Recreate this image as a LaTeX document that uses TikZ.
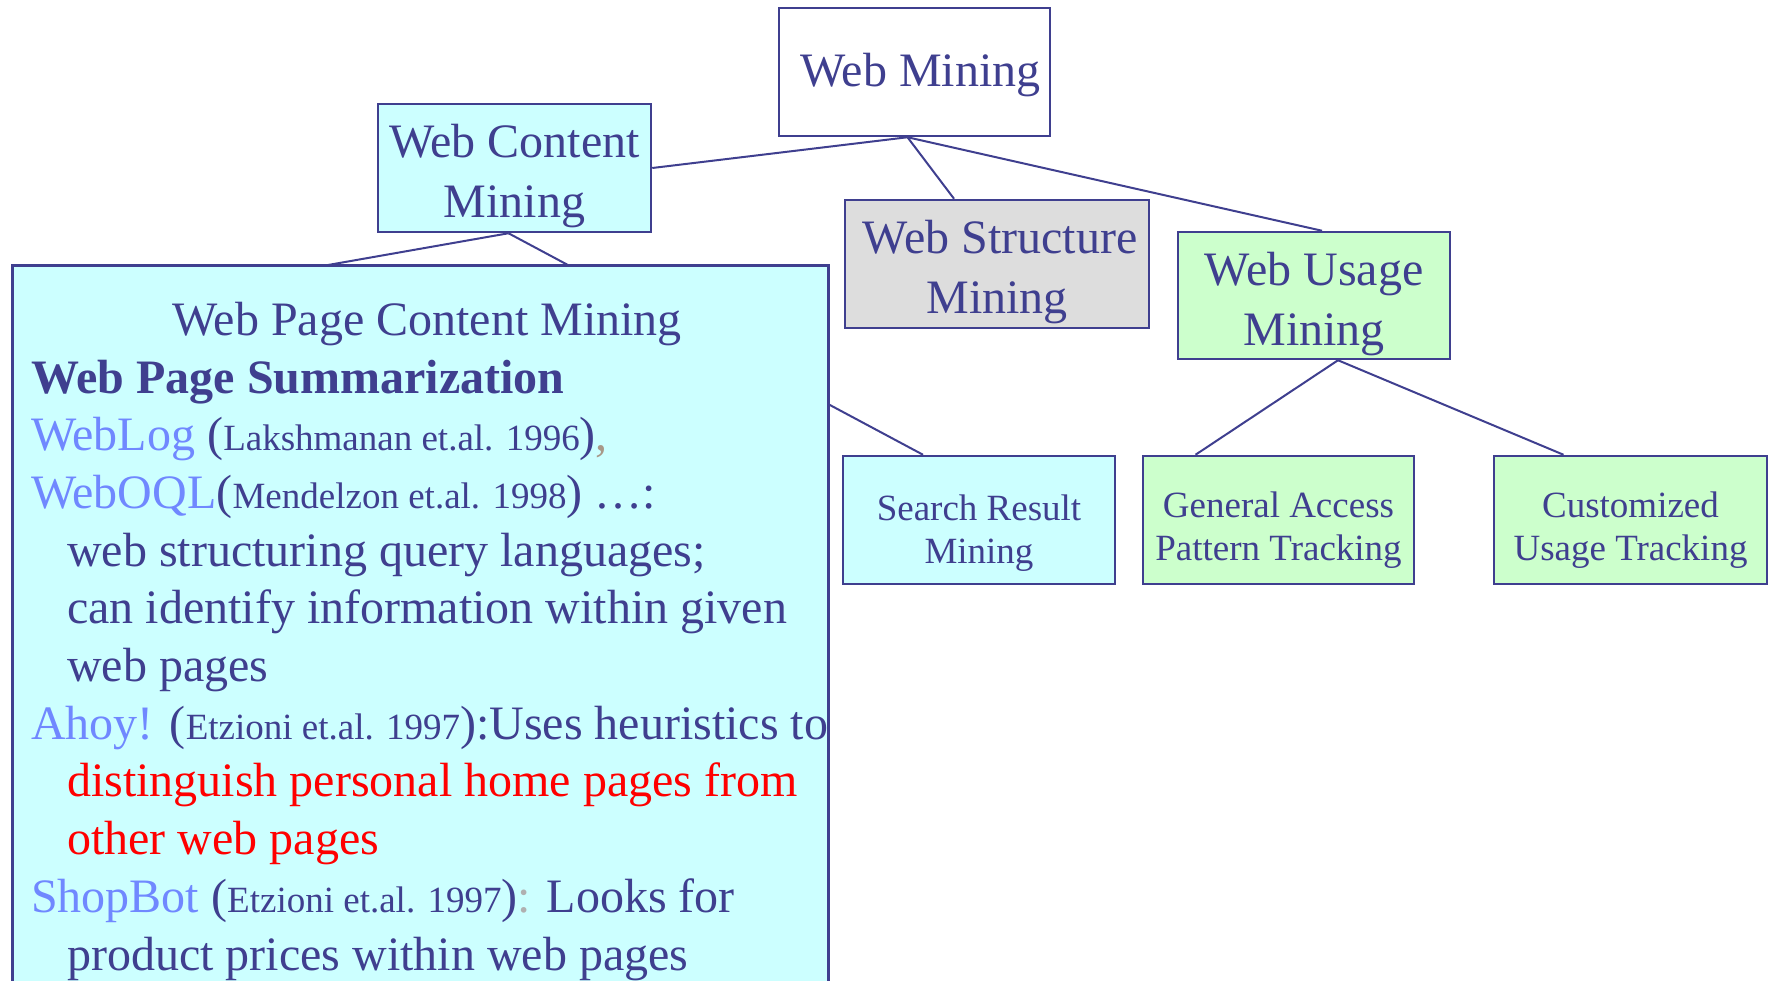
\documentclass[tikz,border=0pt]{standalone}
\usepackage{fontspec}
\setmainfont{Liberation Serif}
\usetikzlibrary{backgrounds}
\definecolor{navy}{HTML}{3F3F8F}
\definecolor{cyanfill}{HTML}{CCFFFF}
\definecolor{grayfill}{HTML}{DDDDDD}
\definecolor{greenfill}{HTML}{CCFFCC}
\definecolor{lnk}{HTML}{7088FF}
\definecolor{commacol}{HTML}{A89888}
\definecolor{coloncol}{HTML}{B0B0B0}
\newcommand\mainfs{\fontsize{48}{60}\selectfont}
\newcommand\smallfs{\fontsize{37}{43}\selectfont}
\newcommand\lnktxt[1]{{\color{lnk}#1}}
\newcommand\smtxt[1]{{\smallfs #1}}
\begin{document}
\begin{tikzpicture}[x=1pt,y=-1pt,
  box/.style={draw=navy, line width=2.5pt, text=navy, align=center, inner sep=0pt},
  bigbox/.style={box, font=\mainfs},
  smallbox/.style={box, font=\smallfs},
  bl/.style={text height=#1, text depth=0pt},
  conn/.style={draw=navy, line width=2pt},
  line/.style={text=navy, font=\mainfs, inner sep=0pt}]
\useasboundingbox (0,0) rectangle (1771,980);
\clip (0,0) rectangle (1771,980);

% boxes
\node[bigbox, fill=white, minimum width=271pt, minimum height=128pt, bl=28pt] (wm) at (914.5,72) {\hspace*{12pt}Web Mining};
\node[bigbox, fill=cyanfill, minimum width=273pt, minimum height=128pt, bl=98pt] (wcm) at (514.5,168) {Web Content\\Mining};
\node[bigbox, fill=grayfill, minimum width=304pt, minimum height=128pt, bl=98pt] (wsm) at (997,264) {\hspace*{6pt}Web Structure\\Mining};
\node[bigbox, fill=greenfill, minimum width=272pt, minimum height=127pt, bl=99pt] (wum) at (1314,295.5) {Web Usage\\Mining};
\node[smallbox, fill=cyanfill, minimum width=272pt, minimum height=128pt, bl=86pt] (srm) at (979,520) {Search Result\\Mining};
\node[smallbox, fill=greenfill, minimum width=271pt, minimum height=128pt, bl=80pt] (gap) at (1278.5,520) {General Access\\Pattern Tracking};
\node[smallbox, fill=greenfill, minimum width=273pt, minimum height=128pt, bl=80pt] (cut) at (1630.5,520) {Customized\\Usage Tracking};

% big content box
\node[box, fill=cyanfill, minimum width=816pt, minimum height=760pt, anchor=north west] (wpcm) at (11,264) {};

\node[line, anchor=base] (t1) at (427,335) {Web Page Content Mining};
\node[line, anchor=base west] (t2) at (31,393) {\bfseries Web Page Summarization};
\node[line, anchor=base west] (t3) at (31,450) {\lnktxt{WebLog} (\smtxt{Lakshmanan et.al. 1996}){\color{commacol},}};
\node[line, anchor=base west] (t4) at (31,508) {\lnktxt{WebOQL}(\smtxt{Mendelzon et.al. 1998}) …:};
\node[line, anchor=base west] (t5) at (67,566) {web structuring query languages;};
\node[line, anchor=base west] (t6) at (67,623) {can identify information within given};
\node[line, anchor=base west] (t7) at (67,681) {web pages};
\node[line, anchor=base west] (t8) at (31,739) {\lnktxt{Ahoy!} (\smtxt{Etzioni et.al. 1997}):Uses heuristics to};
\node[line, anchor=base west, text=red] (t9) at (67,796) {distinguish personal home pages from};
\node[line, anchor=base west, text=red] (t10) at (67,854) {other web pages};
\node[line, anchor=base west] (t11) at (31,912) {\lnktxt{ShopBot} (\smtxt{Etzioni et.al. 1997}){\color{coloncol}:} Looks for};
\node[line, anchor=base west] (t12) at (67,970) {product prices within web pages};

\coordinate (hid) at (220,284);

\begin{scope}[on background layer]
\draw[conn] ([xshift=-7pt]wm.south) -- (wcm.east);
\draw[conn] ([xshift=-7pt]wm.south) -- ([xshift=-43pt]wsm.north);
\draw[conn] ([xshift=-7pt]wm.south) -- ([xshift=8pt]wum.north);
\draw[conn] ([xshift=-6pt]wcm.south) -- (hid);
\draw[conn] ([xshift=-6pt]wcm.south) -- ([xshift=-56pt]srm.north);
\draw[conn] ([xshift=24pt]wum.south) -- ([xshift=-83pt]gap.north);
\draw[conn] ([xshift=24pt]wum.south) -- ([xshift=-67pt]cut.north);
\end{scope}
\end{tikzpicture}
\end{document}
